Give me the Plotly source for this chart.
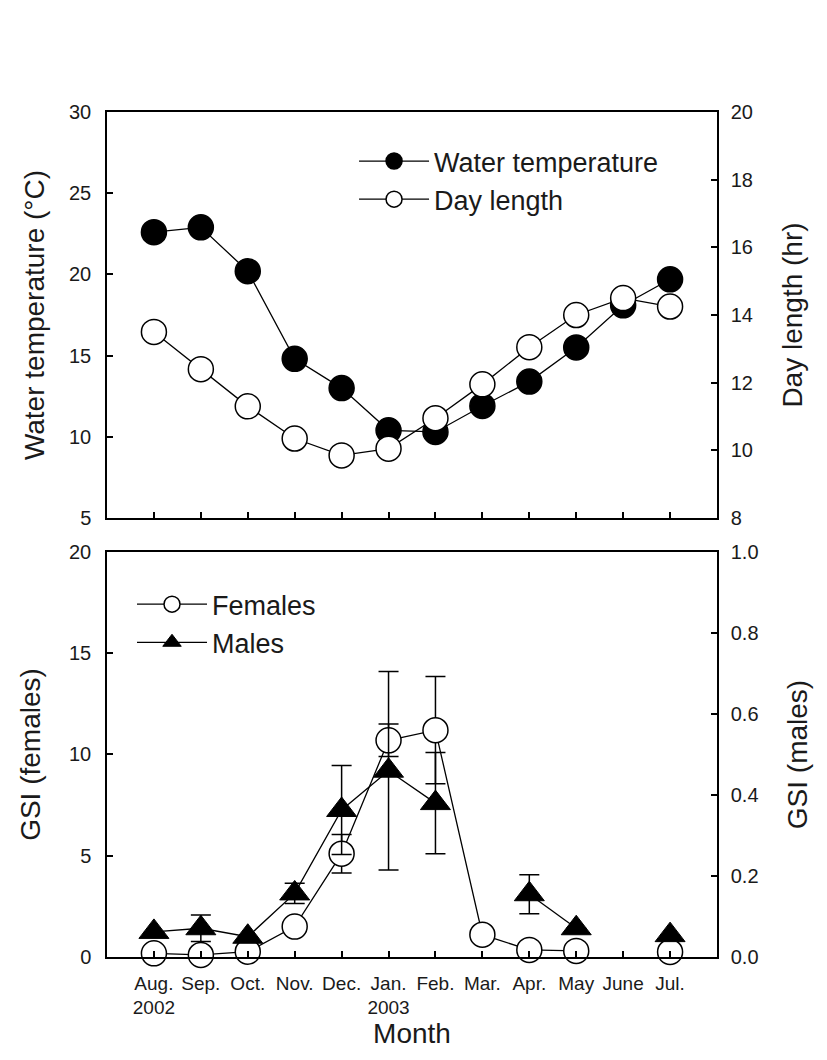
import plotly.graph_objects as go

# ---- data ----
month_labels = ["Aug.<br>2002", "Sep.", "Oct.", "Nov.", "Dec.", "Jan.<br>2003",
                "Feb.", "Mar.", "Apr.", "May", "June", "Jul."]
month_idx = list(range(12))

water_temp = [22.6, 22.9, 20.2, 14.8, 13.0, 10.4, 10.3, 11.9, 13.4, 15.5, 18.1, 19.7]
day_length = [13.5, 12.4, 11.3, 10.35, 9.85, 10.05, 10.95, 11.95, 13.05, 14.0, 14.5, 14.25]

gsi_female = [0.18, 0.1, 0.26, 1.5, 5.1, 10.7, 11.2, 1.1, 0.35, 0.3, None, 0.25]
gsi_female_err = [None, None, None, None, 0.95, 0.8, 2.65, None, None, None, None, None]

gsi_male = [0.062, 0.071, 0.05, 0.157, 0.363, 0.46, 0.38, None, 0.155, 0.071, None, 0.054]
gsi_male_err = [None, 0.033, None, 0.025, 0.11, 0.245, 0.125, None, 0.048, None, None, None]

# ---- style ----
BLACK = "black"
FONT = "Arial, Liberation Sans, sans-serif"
TXT = "#1a1a1a"

fig = go.Figure()

fig.add_trace(go.Scatter(
    x=month_idx, y=water_temp, name="Water temperature", mode="lines+markers",
    line=dict(color=BLACK, width=1.3),
    marker=dict(symbol="circle", size=25, color=BLACK, line=dict(color=BLACK, width=1.5)),
    xaxis="x", yaxis="y", legend="legend", cliponaxis=False))

fig.add_trace(go.Scatter(
    x=month_idx, y=day_length, name="Day length", mode="lines+markers",
    line=dict(color=BLACK, width=1.3),
    marker=dict(symbol="circle", size=25, color="white", line=dict(color=BLACK, width=1.5)),
    xaxis="x", yaxis="y2", legend="legend", cliponaxis=False))

fig.add_trace(go.Scatter(
    x=month_idx, y=gsi_female, name="Females", mode="lines+markers",
    line=dict(color=BLACK, width=1.3), connectgaps=False,
    marker=dict(symbol="circle", size=25, color="white", line=dict(color=BLACK, width=1.5)),
    error_y=dict(type="data", array=gsi_female_err, symmetric=True, color=BLACK, thickness=1.5, width=10),
    xaxis="x2", yaxis="y3", legend="legend2", cliponaxis=False))

fig.add_trace(go.Scatter(
    x=month_idx, y=gsi_male, name="Males", mode="lines+markers",
    line=dict(color=BLACK, width=1.3), connectgaps=False,
    marker=dict(symbol="triangle-up", size=26, color=BLACK, line=dict(color=BLACK, width=1)),
    error_y=dict(type="data", array=gsi_male_err, symmetric=True, color=BLACK, thickness=1.5, width=10),
    xaxis="x2", yaxis="y4", legend="legend2", cliponaxis=False))

axis_common = dict(
    showline=True, linecolor=BLACK, linewidth=1.5,
    ticks="inside", ticklen=6, tickwidth=1.5, tickcolor=BLACK,
    showgrid=False, zeroline=False,
    tickfont=dict(family=FONT, size=20, color=TXT),
)
title_font = dict(family=FONT, size=28, color=TXT)

top_dom = [0.5195, 1.0]
bot_dom = [0.0, 0.4793]

fig.update_layout(
    width=827, height=1060,
    margin=dict(l=107, r=110, t=112, b=103),
    paper_bgcolor="white", plot_bgcolor="white",
    font=dict(family=FONT, size=20, color=TXT),
    xaxis=dict(domain=[0, 1], anchor="y", range=[-1, 12], tickvals=month_idx,
               showticklabels=False, mirror=True, **axis_common),
    yaxis=dict(domain=top_dom, anchor="x", range=[5, 30], dtick=5,
               title=dict(text="Water temperature (°C)", font=title_font, standoff=16),
               ticklabelstandoff=10, **axis_common),
    yaxis2=dict(overlaying="y", side="right", anchor="x", range=[8, 20], dtick=2,
                title=dict(text="Day length (hr)", font=title_font, standoff=30),
                ticklabelstandoff=8, **axis_common),
    xaxis2=dict(domain=[0, 1], anchor="y3", range=[-1, 12], tickvals=month_idx,
                ticktext=month_labels, mirror=True, ticklabelstandoff=8,
                title=dict(text="Month", font=title_font, standoff=2),
                **{**axis_common, "tickfont": dict(family=FONT, size=19, color=TXT)}),
    yaxis3=dict(domain=bot_dom, anchor="x2", range=[0, 20], dtick=5,
                title=dict(text="GSI (females)", font=title_font, standoff=20),
                ticklabelstandoff=10, **axis_common),
    yaxis4=dict(overlaying="y3", side="right", anchor="x2", range=[0, 1], dtick=0.2,
                tickformat=".1f",
                title=dict(text="GSI (males)", font=title_font, standoff=30),
                ticklabelstandoff=8, **axis_common),
    legend=dict(x=0.405, y=0.9704, xanchor="left", yanchor="top", itemwidth=70,
                bgcolor="rgba(0,0,0,0)", font=dict(family=FONT, size=27, color=TXT)),
    legend2=dict(x=0.041, y=0.446, xanchor="left", yanchor="top", itemwidth=70,
                 bgcolor="rgba(0,0,0,0)", font=dict(family=FONT, size=27, color=TXT)),
)

fig.write_html("out.html", config={"displayModeBar": False},
               post_script=["document.body.style.margin='0px';"])
